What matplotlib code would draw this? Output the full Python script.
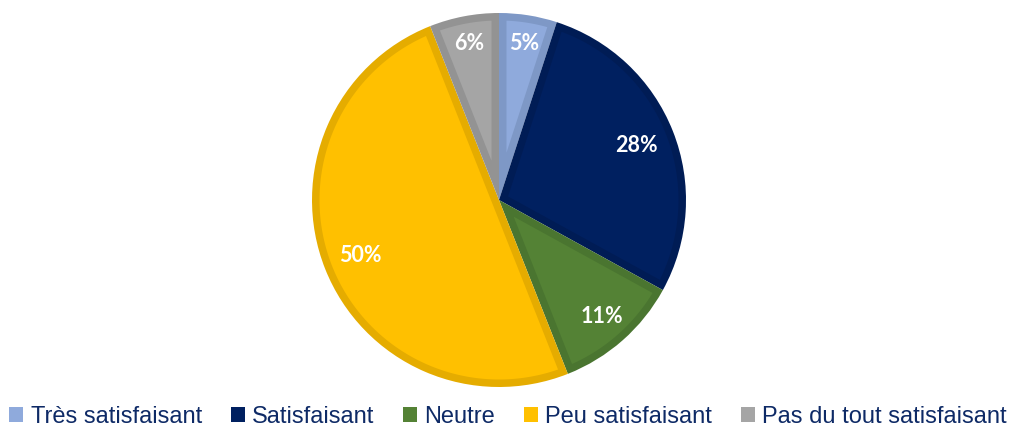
import matplotlib
matplotlib.use("Agg")
import matplotlib.pyplot as plt
from matplotlib.patches import Patch, Polygon
import numpy as np

categories = ["Très satisfaisant", "Satisfaisant", "Neutre", "Peu satisfaisant", "Pas du tout satisfaisant"]
values = [5, 28, 11, 50, 6]
labels = ["5%", "28%", "11%", "50%", "6%"]
face_colors = ["#8FAADC", "#002060", "#548235", "#FFC000", "#A5A5A5"]
edge_colors = ["#7E98C6", "#001C55", "#4A7530", "#E5AC00", "#939393"]

W, H = 1016, 428
fig = plt.figure(figsize=(W / 100, H / 100), dpi=100)
cx, cy, r = 499, 200, 187
ax = fig.add_axes([(cx - r) / W, (H - cy - r) / H, 2 * r / W, 2 * r / H])

wedges, _ = ax.pie(values, colors=edge_colors, startangle=90, counterclock=False,
                   radius=1.0, wedgeprops=dict(linewidth=0))

# inner lighter region of each slice (inset by a border width)
d = 7.5 / r
total = sum(values)
start = 90.0
for v, fc in zip(values, face_colors):
    span = v / total * 360.0
    t1, t2 = start - span, start
    half = np.deg2rad(span / 2)
    mid = np.deg2rad(start - span / 2)
    Ri = 1.0 - d
    vdist = d / np.sin(half) if span < 180 else d
    vx, vy = vdist * np.cos(mid), vdist * np.sin(mid)
    off = np.rad2deg(np.arcsin(d / Ri))
    a = np.linspace(np.deg2rad(t1 + off), np.deg2rad(t2 - off), 200)
    pts = [(vx, vy)] + list(zip(Ri * np.cos(a), Ri * np.sin(a)))
    ax.add_patch(Polygon(pts, closed=True, facecolor=fc, edgecolor="none"))
    start -= span

dists = [0.85, 0.79, 0.83, 0.80, 0.85]
start = 90.0
for v, lab, dd in zip(values, labels, dists):
    mid = np.deg2rad(start - v / total * 360 / 2)
    ax.text(dd * np.cos(mid), dd * np.sin(mid), lab, ha="center", va="center",
            color="white", fontsize=15.5, fontweight="bold", family=["Lato", "DejaVu Sans"])
    start -= v / total * 360

ax.set_xlim(-1, 1)
ax.set_ylim(-1, 1)
ax.set_aspect("equal")
ax.axis("off")

handles = [Patch(facecolor=c, edgecolor="none") for c in face_colors]
leg = fig.legend(handles, categories, loc="center", bbox_to_anchor=(0.5, 1 - 417 / H), ncol=5,
                 frameon=False, prop={"family": "Liberation Sans", "size": 17},
                 handlelength=0.6, handleheight=0.6, handletextpad=0.3, columnspacing=1.22,
                 borderaxespad=0, borderpad=0)
for t in leg.get_texts():
    t.set_color("#0E2A66")

fig.savefig("out.png", dpi=100)
